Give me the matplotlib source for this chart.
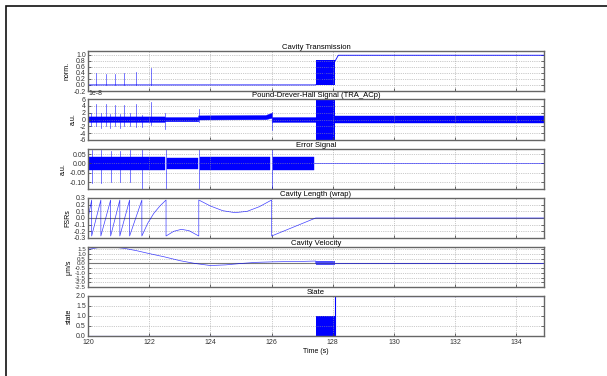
import matplotlib.pyplot as plt
from matplotlib.patches import Rectangle

plt.rcParams['font.family'] = ['Liberation Sans', 'DejaVu Sans']
plt.rcParams['axes.unicode_minus'] = False
plt.rcParams['font.size'] = 5

T0, T1 = 120.0, 134.9
LOCK_ON, LOCK_OFF = 127.44, 128.08

# --- cavity transmission (norm.)
tra_t = [120.0, 127.44, 128.08, 128.18, 134.9]
tra_v = [0.0, 0.0, 0.80, 0.98, 0.98]
tra_spike_t = [120.27, 120.58, 120.87, 121.19, 121.56, 122.07]
tra_spike_v = [0.38, 0.37, 0.37, 0.38, 0.43, 0.55]
tra_burst_top = 0.82

# --- PDH signal (units of 1e-8)
pdh_band_t = [120.0, 122.5, 122.5, 123.6, 123.6, 125.8, 126.0, 126.0, 127.44]
pdh_band_hi = [0.9, 0.9, 0.7, 0.7, 1.2, 1.3, 2.0, 0.7, 0.7]
pdh_band_lo = [-0.7, -0.7, -0.5, -0.5, 0.0, 0.1, 0.5, -0.7, -0.7]
pdh_spike_t = [120.10, 120.27, 120.43, 120.58, 120.73, 120.87, 121.03, 121.19,
               121.37, 121.56, 121.78, 122.07, 122.52, 123.62, 126.0]
pdh_spike_hi = [1.8, 4.4, 1.8, 4.4, 1.5, 4.3, 1.6, 4.3, 1.9, 4.6, 1.3, 5.2, 1.9, 3.0, 2.2]
pdh_spike_lo = [-2.0, -1.8, -2.4, -2.0, -2.5, -1.8, -2.5, -1.8, -2.0, -2.2, -2.3,
                -1.5, -2.8, -0.6, -3.0]
pdh_tail_t = [128.08, 134.9]
pdh_tail_hi = [0.9, 0.9]
pdh_tail_lo = [-0.9, -0.9]
pdh_burst = 6.5

# --- error signal (a.u.), one entry per noisy stretch between lock attempts
err_seg_start = [120.0, 122.58, 123.66, 126.04]
err_seg_end = [122.51, 123.58, 125.96, 127.4]
err_seg_hi = [0.032, 0.028, 0.032, 0.032]
err_seg_lo = [-0.035, -0.03, -0.035, -0.035]
err_spike_t = [120.12, 120.42, 120.74, 121.04, 121.36, 121.76, 122.55, 123.62, 126.0]
err_spike_hi = [0.07, 0.07, 0.065, 0.065, 0.07, 0.075, 0.09, 0.09, 0.09]
err_spike_lo = [-0.105, -0.105, -0.1, -0.1, -0.1, -0.14, -0.14, -0.14, -0.14]
err_flat_t = [127.4, 134.9]
err_flat_v = [0.0, 0.0]

# --- cavity length, wrapped to one FSR
len_t = [120.0, 120.12, 120.12, 120.42, 120.42, 120.74, 120.74, 121.04, 121.04,
         121.36, 121.36, 121.76, 121.76, 121.95, 122.15, 122.35, 122.55,
         122.55, 122.8, 123.05, 123.3, 123.62,
         123.62, 124.0, 124.4, 124.8, 125.2, 125.6, 126.0,
         126.0, 127.44, 134.9]
len_v = [0.0, 0.27, -0.27, 0.27, -0.27, 0.27, -0.27, 0.27, -0.27,
         0.27, -0.27, 0.27, -0.27, -0.08, 0.07, 0.18, 0.27,
         -0.27, -0.2, -0.17, -0.19, -0.27,
         0.27, 0.18, 0.11, 0.08, 0.1, 0.17, 0.27,
         -0.27, 0.0, 0.0]

# --- cavity velocity (um/s)
vel_t = [120.0, 120.4, 120.8, 121.2, 121.6, 122.0, 122.5, 123.0, 123.5, 124.0,
         124.5, 125.0, 125.5, 126.0, 126.5, 127.0, 127.44, 127.44, 128.08, 134.9]
vel_v = [1.5, 1.72, 1.75, 1.6, 1.35, 1.05, 0.7, 0.3, 0.0, -0.22,
         -0.15, 0.0, 0.12, 0.17, 0.2, 0.22, 0.26, 0.0, 0.0, 0.0]
vel_noise_t = [127.44, 128.08]
vel_noise_hi = [0.25, 0.25]
vel_noise_lo = [-0.2, -0.2]

# --- lock state
state_t = [120.0, 127.44, 128.08, 128.08, 134.9]
state_v = [0, 0, 0, 2, 2]
state_burst = 1.0

BLUE = '#0000ff'
panel_px = [(51, 91), (99, 140), (149, 189), (198, 238), (247, 287), (296, 336)]
W, H = 607, 376


def spikes(ax, t, lo, hi, lw=0.5):
    for x, a, b in zip(t, lo, hi):
        ax.plot([x, x], [a, b], color=BLUE, lw=lw, alpha=0.75)


fig = plt.figure(figsize=(W / 100, H / 100), dpi=100)
axes = []
for top, bot in panel_px:
    ax = fig.add_axes([88 / W, 1 - bot / H, (544 - 88) / W, (bot - top) / H])
    axes.append(ax)

# transmission
ax = axes[0]
ax.plot(tra_t, tra_v, color=BLUE, lw=0.6)
spikes(ax, tra_spike_t, [0] * len(tra_spike_t), tra_spike_v)
ax.fill_between([LOCK_ON, LOCK_OFF], 0, tra_burst_top, color=BLUE, lw=0)
ax.set_ylim(-0.2, 1.12)
ax.set_yticks([-0.2, 0.0, 0.2, 0.4, 0.6, 0.8, 1.0])
ax.set_title('Cavity Transmission')
ax.set_ylabel('norm.')

# PDH
s = 1e-8
ax = axes[1]
ax.fill_between(pdh_band_t, [v * s for v in pdh_band_lo], [v * s for v in pdh_band_hi],
                color=BLUE, lw=0.3)
spikes(ax, pdh_spike_t, [v * s for v in pdh_spike_lo], [v * s for v in pdh_spike_hi])
ax.fill_between([LOCK_ON, LOCK_OFF], -pdh_burst * s, pdh_burst * s, color=BLUE, lw=0)
ax.fill_between(pdh_tail_t, [v * s for v in pdh_tail_lo], [v * s for v in pdh_tail_hi],
                color=BLUE, lw=0.3)
ax.set_ylim(-6e-8, 6e-8)
ax.set_yticks([v * s for v in (-6, -4, -2, 0, 2, 4, 6)])
ax.set_title('Pound-Drever-Hall Signal (TRA_ACp)')
ax.set_ylabel('a.u.')

# error signal
ax = axes[2]
for a, b, hi, lo in zip(err_seg_start, err_seg_end, err_seg_hi, err_seg_lo):
    ax.fill_between([a, b], lo, hi, color=BLUE, lw=0.3)
spikes(ax, err_spike_t, err_spike_lo, err_spike_hi)
ax.plot(err_flat_t, err_flat_v, color=BLUE, lw=0.6, alpha=0.6)
ax.set_ylim(-0.137, 0.077)
ax.set_yticks([-0.10, -0.05, 0.0, 0.05])
ax.yaxis.set_major_formatter(plt.FormatStrFormatter('%.2f'))
ax.set_title('Error Signal')
ax.set_ylabel('a.u.')

# cavity length
ax = axes[3]
ax.axhline(0, color='#777777', lw=0.8)
ax.plot(len_t, len_v, color=BLUE, lw=0.5, alpha=0.75)
ax.set_ylim(-0.3, 0.3)
ax.set_yticks([-0.3, -0.2, -0.1, 0.0, 0.1, 0.2, 0.3])
ax.set_title('Cavity Length (wrap)')
ax.set_ylabel('FSRs')

# cavity velocity
ax = axes[4]
ax.axhline(0, color='#777777', lw=0.8)
ax.plot(vel_t, vel_v, color=BLUE, lw=0.5, alpha=0.75)
ax.fill_between(vel_noise_t, vel_noise_lo, vel_noise_hi, color=BLUE, lw=0, alpha=0.7)
ax.set_ylim(-2.5, 1.75)
ax.set_yticks([-2.5, -2.0, -1.5, -1.0, -0.5, 0.0, 0.5, 1.0, 1.5])
ax.set_title('Cavity Velocity')
ax.set_ylabel('\u03bcm/s')

# state
ax = axes[5]
ax.plot(state_t, state_v, color=BLUE, lw=0.8)
ax.fill_between([LOCK_ON, LOCK_OFF], 0, state_burst, color=BLUE, lw=0)
ax.set_ylim(0, 2.0)
ax.set_yticks([0.0, 0.5, 1.0, 1.5, 2.0])
ax.set_title('State')
ax.set_ylabel('state')
ax.set_xlabel('Time (s)', labelpad=1)

for i, ax in enumerate(axes):
    ax.set_xlim(T0, T1)
    ax.set_xticks(range(120, 135, 2))
    ax.grid(True, ls=':', color='#999999', lw=0.5)
    ax.tick_params(direction='in', length=2, width=0.5, pad=1.5, colors='#333333',
                   labelsize=5, right=True, top=False)
    for sp in ax.spines.values():
        sp.set_color('#666666')
        sp.set_linewidth(1.0)
    ax.set_title(ax.get_title(), fontsize=5.5, pad=1.5)
    ax.yaxis.label.set_fontsize(5)
    ax.yaxis.labelpad = 2
    if i < len(axes) - 1:
        ax.tick_params(labelbottom=False)
axes[5].tick_params(axis='x', pad=2.5)
axes[4].tick_params(axis='y', labelsize=4.5)
axes[1].yaxis.get_offset_text().set_fontsize(5)

fig.add_artist(Rectangle((6 / W, -0.1), 1.2, 1.1 - 6 / H, transform=fig.transFigure,
                         fill=False, ec='#111111', lw=1.2))

fig.savefig('out.png', dpi=100)
